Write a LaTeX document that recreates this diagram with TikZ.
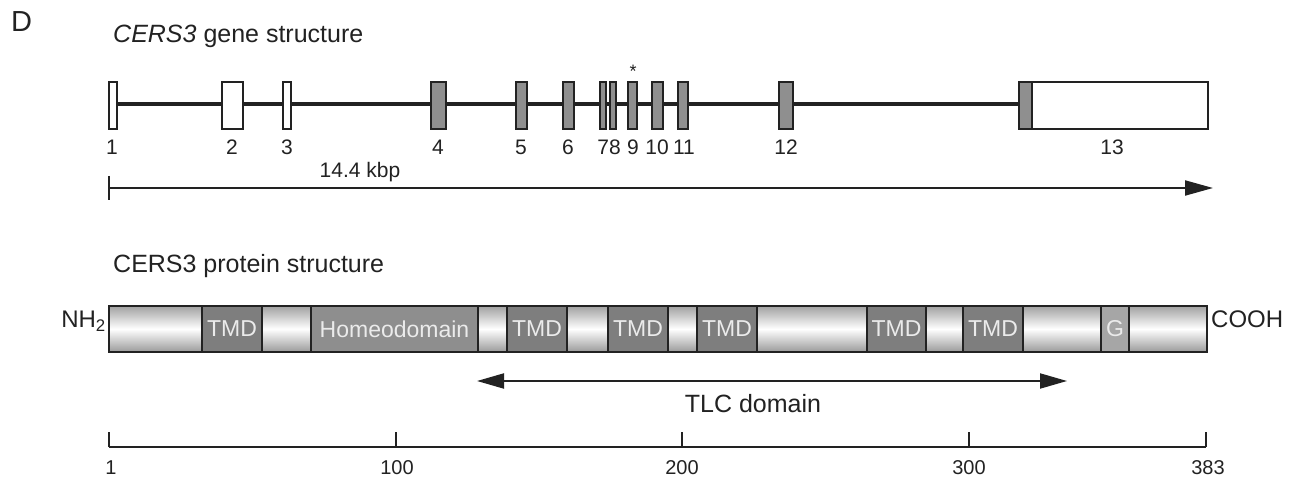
\documentclass[tikz,border=0pt]{standalone}
\usepackage{fontspec}
\setmainfont{Liberation Sans}
\usetikzlibrary{arrows.meta}
\definecolor{exgray}{HTML}{8F8F8F}
\definecolor{tmdgray}{HTML}{7E7E7E}
\definecolor{hdgray}{HTML}{8E8E8E}
\definecolor{ggray}{HTML}{A6A6A6}
\definecolor{gtop}{HTML}{A2A2A2}
\definecolor{gbot}{HTML}{9A9A9A}
\definecolor{ink}{HTML}{222222}
\newcommand{\fs}[1]{\fontsize{#1}{#1}\selectfont}
\newcommand{\exon}[4]{\node[exonbox, fill=#4, minimum width={#3-#2}] (#1) at ({(#2+#3)/2},105.5) {};}
\newcommand{\pseg}[5]{\node[#4, minimum width={#3-#2}] (#1) at ({(#2+#3)/2},329) {#5};}
\tikzset{
  exonbox/.style={draw=ink, line width=1.5pt, minimum height=47pt, inner sep=0pt},
  exlabel/.style={text=ink, font=\fs{21}, inner sep=0pt, anchor=center},
  title/.style={text=ink, font=\fs{25}, inner sep=0pt, anchor=base west},
  segbase/.style={draw=ink, line width=1.8pt, minimum height=46pt, inner sep=0pt, font=\fs{23}, text=white!92!black},
  grad/.style={segbase, top color=gtop, bottom color=gbot, middle color=white},
  tmd/.style={segbase, fill=tmdgray},
  hd/.style={segbase, fill=hdgray},
  gseg/.style={segbase, fill=ggray},
  intron/.style={draw=ink, line width=4pt},
  bigarrow/.style={draw=ink, line width=2pt},
  axis/.style={draw=ink, line width=1.8pt},
  scalelabel/.style={text=ink, font=\fs{20}, inner sep=0pt, anchor=center}
}
\begin{document}
\begin{tikzpicture}[x=1pt, y=-1pt]
\useasboundingbox[fill=white] (0,0) rectangle (1294,486);
% panel letter and titles
\node[title, font=\fs{29}] (D) at (11,32) {D};
\node[title] (gtitle) at (113,43) {\textit{CERS3} gene structure};
\node[title] (ptitle) at (113,273) {CERS3 protein structure};
% exons
\exon{e1}{109}{117}{white}
\exon{e2}{222}{243}{white}
\exon{e3}{283}{291}{white}
\exon{e4}{431}{446}{exgray}
\exon{e5}{516}{527}{exgray}
\exon{e6}{563}{574}{exgray}
\exon{e7}{600}{606}{exgray}
\exon{e8}{610}{616}{exgray}
\exon{e9}{628}{637}{exgray}
\exon{e10}{652}{663}{exgray}
\exon{e11}{678}{688}{exgray}
\exon{e12}{779}{793}{exgray}
\exon{e13a}{1019}{1032}{exgray}
\exon{e13b}{1032}{1208}{white}
% introns (backbone) between consecutive exons
\foreach \a/\b in {e1/e2,e2/e3,e3/e4,e4/e5,e5/e6,e6/e7,e7/e8,e8/e9,e9/e10,e10/e11,e11/e12,e12/e13a}{
  \draw[intron] (\a.east |- 0,104) -- (\b.west |- 0,104);
}
% exon labels
\node[exlabel] (l1) at (112,147) {1};
\node[exlabel] (l2) at (232,147) {2};
\node[exlabel] (l3) at (287,147) {3};
\node[exlabel] (l4) at (438,147) {4};
\node[exlabel] (l5) at (521,147) {5};
\node[exlabel] (l6) at (568,147) {6};
\node[exlabel] (l78) at (609,147) {78};
\node[exlabel] (l9) at (633,147) {9};
\node[exlabel] (l10) at (657,147) {10};
\node[exlabel] (l11) at (684,147) {11};
\node[exlabel] (l12) at (786,147) {12};
\node[exlabel] (l13) at (1112,147) {13};
\node[exlabel, font=\fs{18}] (star) at (633,71) {*};
% gene length arrow
\coordinate (gs) at (109,188);
\coordinate (ge) at (1213,188);
\coordinate (gt1) at (109,176);
\coordinate (gt2) at (109,200);
\draw[bigarrow, -{Triangle[length=28pt,width=15pt]}] (gs) -- (ge);
\draw[bigarrow, line width=2.5pt] (gt1) -- (gt2);
\node[exlabel, font=\fs{21}] (kbp) at (360,172) {14.4 kbp};
% protein segments
\pseg{p1}{109}{202}{grad}{}
\pseg{p2}{202}{262}{tmd}{TMD}
\pseg{p3}{262}{311}{grad}{}
\pseg{p4}{311}{478}{hd}{Homeodomain}
\pseg{p5}{478}{507}{grad}{}
\pseg{p6}{507}{567}{tmd}{TMD}
\pseg{p7}{567}{608}{grad}{}
\pseg{p8}{608}{668}{tmd}{TMD}
\pseg{p9}{668}{697}{grad}{}
\pseg{p10}{697}{757}{tmd}{TMD}
\pseg{p11}{757}{867}{grad}{}
\pseg{p12}{867}{926}{tmd}{TMD}
\pseg{p13}{926}{963}{grad}{}
\pseg{p14}{963}{1023}{tmd}{TMD}
\pseg{p15}{1023}{1101}{grad}{}
\pseg{p16}{1101}{1129}{gseg}{G}
\pseg{p17}{1129}{1207}{grad}{}
\node[text=ink, font=\fs{24}, inner sep=0pt, anchor=base east] (nh2) at (106,328) {NH\textsubscript{2}};
\node[text=ink, font=\fs{24}, inner sep=0pt, anchor=base west] (cooh) at (1211,328) {COOH};
% TLC domain arrow
\coordinate (tl) at (477,381);
\coordinate (tr) at (1067,381);
\draw[bigarrow, {Triangle[length=27pt,width=15pt]}-{Triangle[length=27pt,width=15pt]}] (tl) -- (tr);
\node[text=ink, font=\fs{25}, inner sep=0pt, anchor=center] (tlc) at (753,404) {TLC domain};
% scale
\coordinate (a1) at (109,447);
\coordinate (a100) at (396,447);
\coordinate (a200) at (682,447);
\coordinate (a300) at (969,447);
\coordinate (a383) at (1206,447);
\draw[axis] (a1) -- (a383);
\foreach \c in {a1,a100,a200,a300,a383}{
  \draw[axis] (\c) -- ++(0,-15);
}
\node[scalelabel] (s1) at (111,468) {1};
\node[scalelabel] (s100) at (397,468) {100};
\node[scalelabel] (s200) at (682,468) {200};
\node[scalelabel] (s300) at (969,468) {300};
\node[scalelabel] (s383) at (1208,468) {383};
\end{tikzpicture}
\end{document}
